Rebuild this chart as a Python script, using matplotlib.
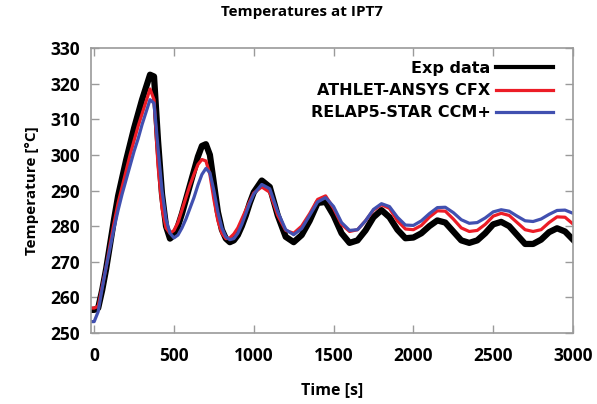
"""Temperatures at IPT7: experiment vs coupled code results."""
import matplotlib
matplotlib.use("Agg")
import matplotlib.pyplot as plt

# time grid [s]: 25 s steps up to 1000 s, 50 s afterwards
time_s = [-20] + list(range(0, 1001, 25)) + list(range(1050, 3001, 50))

exp_data = [
    256.5, 256.5, 257.0, 262.0, 268.0, 275.0, 282.0, 288.5, 293.5, 298.5, 303.0,
    307.5, 311.5, 315.5, 319.0, 322.5, 322.0, 304.0, 289.0, 280.0, 276.5,
    277.5, 280.0, 283.5, 287.5, 291.5, 295.5, 299.5, 302.5, 303.0, 300.0,
    292.0, 284.0, 279.0, 276.5, 275.5, 276.0, 277.5, 280.0, 283.0, 286.5, 289.5,
    292.8, 291.0, 283.0, 277.0, 275.5, 277.5, 281.5, 286.5, 286.8, 283.0,
    278.0, 275.3, 276.0, 278.8, 282.5, 284.5, 282.5, 279.0, 276.6, 276.8,
    278.0, 280.0, 281.6, 281.0, 278.5, 276.0, 275.3, 276.0, 278.0, 280.5,
    281.2, 280.0, 277.5, 275.0, 275.0, 276.2, 278.3, 279.4, 278.5, 276.2,
]
athlet_cfx = [
    257.0, 257.0, 257.5, 263.0, 268.5, 275.0, 281.0, 286.5, 291.0, 295.5, 300.0,
    304.0, 308.0, 311.5, 315.0, 318.5, 315.5, 297.0, 285.0, 279.5, 278.0,
    278.8, 281.0, 284.5, 288.0, 291.5, 294.5, 297.3, 298.7, 298.3, 294.5,
    287.5, 281.5, 278.0, 276.5, 276.7, 277.8, 279.5, 282.0, 284.5, 287.0, 289.3,
    291.0, 289.5, 283.0, 278.8, 278.0, 280.0, 283.5, 287.5, 288.5, 285.0,
    280.5, 278.5, 279.0, 281.5, 284.5, 286.0, 285.0, 281.5, 279.2, 279.0,
    280.2, 282.5, 284.3, 284.2, 282.0, 279.5, 278.5, 278.8, 280.5, 282.8,
    283.6, 283.0, 281.0, 279.0, 278.5, 279.0, 281.0, 282.6, 282.5, 280.6,
]
relap5_ccm = [
    253.2, 253.2, 256.0, 262.5, 268.5, 274.0, 279.5, 284.5, 289.0, 293.0, 297.0,
    301.0, 304.5, 308.5, 312.0, 315.5, 314.5, 302.0, 290.0, 282.0, 278.0,
    276.7, 277.5, 279.5, 282.0, 285.0, 288.0, 291.5, 294.5, 296.2, 295.0,
    290.0, 284.0, 279.5, 277.0, 276.2, 276.5, 278.0, 280.5, 283.5, 286.5, 289.0,
    291.7, 290.5, 284.0, 279.0, 277.6, 279.3, 283.0, 286.8, 288.0, 285.5,
    281.0, 278.8, 279.0, 281.5, 284.7, 286.3, 285.5, 282.5, 280.3, 280.2,
    281.5, 283.5, 285.2, 285.3, 283.8, 281.8, 280.8, 281.0, 282.3, 284.0,
    284.6, 284.2, 282.8, 281.5, 281.3, 282.0, 283.3, 284.4, 284.5, 283.6,
]

x_ticks = [0, 500, 1000, 1500, 2000, 2500, 3000]
y_ticks = [250, 260, 270, 280, 290, 300, 310, 320, 330]

TICK_FONT = "Open Sans"
GREY = "#9a9a9a"

fig = plt.figure(figsize=(5.97, 4.04), dpi=100)
ax = fig.add_axes([0.1524, 0.1757, 0.8074, 0.7055])

ax.plot(time_s, exp_data, color="black", lw=4.5, label="Exp data",
        solid_joinstyle="round")
ax.plot(time_s, athlet_cfx, color="#ec1c26", lw=2.3, label="ATHLET-ANSYS CFX")
ax.plot(time_s, relap5_ccm, color="#4150b0", lw=2.3, label="RELAP5-STAR CCM+")

ax.set_xlim(-20, 3000)
ax.set_ylim(250, 330)
ax.set_xticks(x_ticks)
ax.set_yticks(y_ticks)
for spine in ax.spines.values():
    spine.set_color(GREY)
    spine.set_linewidth(1.2)
ax.tick_params(direction="in", length=6, width=1.0, color=GREY,
               top=True, right=True, labelsize=12.5)
ax.tick_params(axis="y", pad=8)
ax.tick_params(axis="x", pad=10)
for lbl in ax.get_xticklabels() + ax.get_yticklabels():
    lbl.set_fontfamily(TICK_FONT)
    lbl.set_fontweight("bold")

ax.set_xlabel("Time [s]", fontfamily=TICK_FONT, fontweight="bold", fontsize=11.5, labelpad=12)
ax.set_ylabel("Temperature [°C]", fontfamily=TICK_FONT, fontweight="bold", fontsize=11, labelpad=8)
fig.text(0.505, 0.97, "Temperatures at IPT7", ha="center", va="center",
         fontfamily=TICK_FONT, fontweight="bold", fontsize=11)

leg = ax.legend(loc="upper right", bbox_to_anchor=(553 / 597, 1 - 61 / 404),
                bbox_transform=fig.transFigure, frameon=False, markerfirst=False,
                borderpad=0, borderaxespad=0, handlelength=3.6, handletextpad=0.3,
                labelspacing=0.45, prop={"family": "DejaVu Sans", "weight": "bold", "size": 11.5})
for line in leg.get_lines():
    line.set_linewidth(2.3)
leg.get_lines()[0].set_linewidth(3.0)

fig.savefig("out.png", dpi=100)
plt.close(fig)
